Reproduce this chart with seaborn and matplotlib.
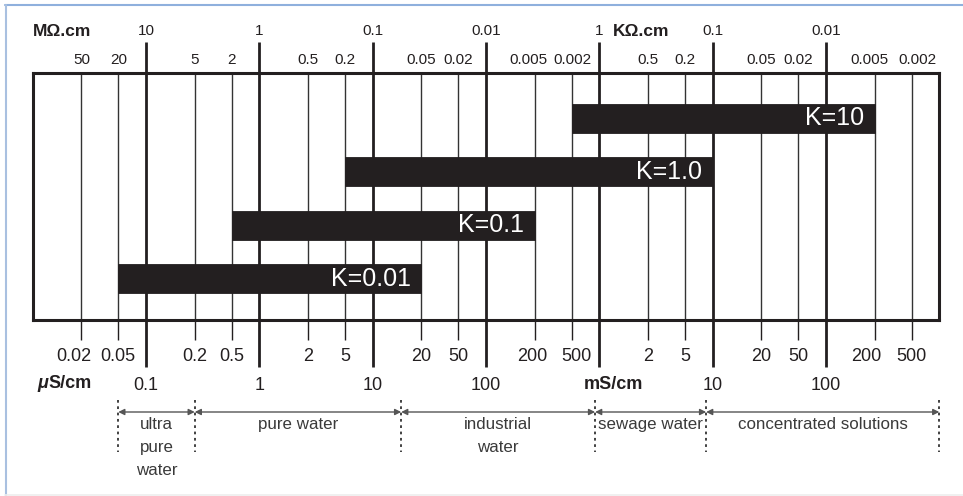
import numpy as np
import pandas as pd
import matplotlib
matplotlib.use("Agg")
import matplotlib.pyplot as plt
import matplotlib.transforms as mtransforms
import seaborn as sns
from matplotlib.lines import Line2D

# ---------------- data ----------------
cell_constants = ["K=10", "K=1.0", "K=0.1", "K=0.01"]
range_low_uS = [500, 5, 0.5, 0.05]
range_high_uS = [200000, 10000, 200, 20]

cond_major_uS = [0.1, 1, 10, 100, 1000, 10000, 100000]
cond_major_labels = ["0.1", "1", "10", "100", "", "10", "100"]
cond_minor_uS = [0.02, 0.05, 0.2, 0.5, 2, 5, 20, 50, 200, 500,
                 2000, 5000, 20000, 50000, 200000, 500000]
cond_minor_labels = ["0.02", "0.05", "0.2", "0.5", "2", "5", "20", "50", "200", "500",
                     "2", "5", "20", "50", "200", "500"]

res_major_MOhm = [10, 1, 0.1, 0.01, 0.001, 0.0001, 0.00001]
res_major_labels = ["10", "1", "0.1", "0.01", "1", "0.1", "0.01"]
res_minor_MOhm = [50, 20, 5, 2, 0.5, 0.2, 0.05, 0.02, 0.005, 0.002,
                  0.0005, 0.0002, 0.00005, 0.00002, 0.000005, 0.000002]
res_minor_labels = ["50", "20", "5", "2", "0.5", "0.2", "0.05", "0.02", "0.005", "0.002",
                    "0.5", "0.2", "0.05", "0.02", "0.005", "0.002"]

water_types = ["ultra\npure\nwater", "pure water", "industrial\nwater",
               "sewage water", "concentrated solutions"]
water_bounds_uS = [0.05, 0.2, 15, 900, 8500, 1000000]

df = pd.DataFrame({"K": cell_constants, "low": range_low_uS, "high": range_high_uS})

# small horizontal nudges (pixels) of crowded tick labels, as in the original layout
bottom_minor_nudge_px = {0: -8, 8: -2, 9: 5, 14: -8}
top_minor_nudge_px = {8: -6.5, 9: 1, 14: -5, 15: 6}

# ---------------- scale (chart's own log-like ruler spacing) ----------------
MANT = np.log10([1.0, 2.0, 5.0, 10.0])
WARP = np.array([0.0, 0.43, 0.755, 1.0])


def fwd(x):
    x = np.asarray(x, dtype=float)
    l = np.log10(np.where(x > 0, x, 1e-300))
    d = np.floor(l + 1e-9)
    f = np.clip(l - d, 0, 1)
    return d + np.interp(f, MANT, WARP)


def inv(y):
    y = np.asarray(y, dtype=float)
    d = np.floor(y + 1e-9)
    f = np.clip(y - d, 0, 1)
    return 10 ** (d + np.interp(f, WARP, MANT))


sns.set_theme(style="white")
plt.rcParams["font.family"] = ["Liberation Sans", "DejaVu Sans"]

INK = "#231f20"
W, H = 963, 496
fig = plt.figure(figsize=(W / 100, H / 100), dpi=100)
fig.patch.set_facecolor("white")

L, R, T, B = 32.7, 939.3, 73, 320
ax = fig.add_axes([L / W, 1 - B / H, (R - L) / W, (B - T) / H])
ax.set_xscale("function", functions=(fwd, inv))
ax.set_xlim(0.01, 1e6)

ypos = np.arange(len(df))
ax.barh(ypos, df["high"] - df["low"], left=df["low"], height=0.54,
        color=INK, edgecolor=INK, linewidth=0.6, zorder=3)
ax.set_ylim(3.77, -0.85)
ax.set_yticks([])

for i, row in df.iterrows():
    ax.annotate(row["K"], xy=(row["high"], i), xytext=(-7.5, 0),
                textcoords="offset points", ha="right", va="center",
                color="white", fontsize=18, zorder=4)

# bottom (conductivity) ticks
ax.set_xticks(cond_major_uS, labels=cond_major_labels)
ax.set_xticks(cond_minor_uS, labels=cond_minor_labels, minor=True)
ax.tick_params(axis="x", which="major", bottom=True, length=33.8, width=2.0,
               pad=7.3, labelsize=13, color=INK, labelcolor=INK, direction="out")
ax.tick_params(axis="x", which="minor", bottom=True, length=14.4, width=1.0,
               pad=6.0, labelsize=13, color=INK, labelcolor=INK, direction="out")
ax.grid(True, which="major", axis="x", color=INK, lw=2.0, zorder=1)
ax.grid(True, which="minor", axis="x", color="#333333", lw=1.0, zorder=1)
ax.grid(False, axis="y")
ax.set_axisbelow(True)
for s in ax.spines.values():
    s.set_visible(True)
    s.set_color(INK)
    s.set_linewidth(2.2)
    s.set_zorder(5)

# top (resistivity) ticks
ax2 = ax.twiny()
ax2.set_xscale("function", functions=(fwd, inv))
ax2.set_xlim(ax.get_xlim())
ax2.set_xticks([1.0 / r for r in res_major_MOhm], labels=res_major_labels)
ax2.set_xticks([1.0 / r for r in res_minor_MOhm], labels=res_minor_labels, minor=True)
ax2.tick_params(axis="x", which="major", top=True, length=22.3, width=2.0,
                pad=3, labelsize=11, color=INK, labelcolor=INK, direction="out")
ax2.tick_params(axis="x", which="minor", top=True, length=0, width=0,
                pad=4.4, labelsize=11, color=INK, labelcolor=INK)
ax2.grid(False)
for s in ax2.spines.values():
    s.set_visible(False)


def nudge(labels, shifts):
    for idx, dx in shifts.items():
        lab = labels[idx]
        lab.set_transform(lab.get_transform() +
                          mtransforms.ScaledTranslation(dx / 100, 0, fig.dpi_scale_trans))


nudge(ax.xaxis.get_ticklabels(minor=True), bottom_minor_nudge_px)
nudge(ax2.xaxis.get_ticklabels(minor=True), top_minor_nudge_px)

# unit labels
xt = ax.get_xaxis_transform()
ax.annotate("MΩ.cm", xy=(0.01, 1), xycoords=xt, xytext=(0, 30.2),
            textcoords="offset points", ha="left", va="center",
            fontsize=12.5, fontweight="bold", color=INK)
ax.annotate("KΩ.cm", xy=(1000, 1), xycoords=xt, xytext=(10, 30.2),
            textcoords="offset points", ha="left", va="center",
            fontsize=12.5, fontweight="bold", color=INK)
ax.annotate("mS/cm", xy=(1000, 0), xycoords=xt, xytext=(10.5, -46.5),
            textcoords="offset points", ha="center", va="center",
            fontsize=13, fontweight="bold", color=INK)
fig.text(48 / W, 1 - 384 / H, "μ", ha="right", va="center", fontsize=13,
         fontweight="bold", fontstyle="italic", color=INK)
fig.text(48 / W, 1 - 384 / H, "S/cm", ha="left", va="center", fontsize=13,
         fontweight="bold", color=INK)


# water type ranges
def ypx(p):
    return (B - p) / (B - T)


ax.vlines(water_bounds_uS, ypx(400), ypx(452), transform=xt, colors="#333333",
          linestyles=(0, (1.5, 2.0)), lw=1.3, clip_on=False)
for name, b0, b1 in zip(water_types, water_bounds_uS[:-1], water_bounds_uS[1:]):
    ax.annotate("", xy=(b1, ypx(412)), xytext=(b0, ypx(412)), xycoords=xt,
                textcoords=xt,
                arrowprops=dict(arrowstyle="<|-|>", color="#555555", lw=1.0,
                                shrinkA=0, shrinkB=0, mutation_scale=9),
                annotation_clip=False)
    xc = float(inv((fwd(b0) + fwd(b1)) / 2))
    ax.text(xc, ypx(417), name, transform=xt, ha="center", va="top",
            fontsize=12.2, color="#3a3a3a", linespacing=1.68)

# outer frame
fig.add_artist(Line2D([5 / W, 1], [1 - 4.5 / H] * 2, transform=fig.transFigure,
                      color="#8fb0dd", lw=1.5))
fig.add_artist(Line2D([5.5 / W] * 2, [0, 1 - 4.5 / H], transform=fig.transFigure,
                      color="#a9c0e0", lw=1.5))
fig.add_artist(Line2D([5 / W, 1], [1 - 495 / H] * 2, transform=fig.transFigure,
                      color="#eeeeee", lw=1.2))

fig.savefig("out.png", dpi=100)
